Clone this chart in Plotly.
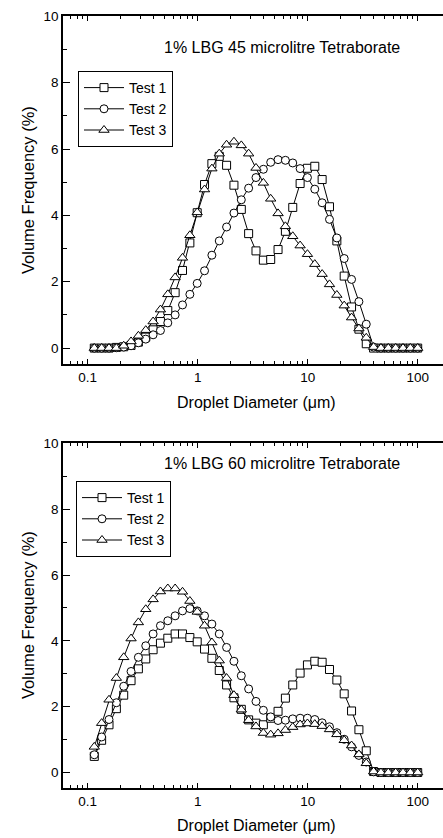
import plotly.graph_objects as go

# Droplet diameter (um) - measurement bins
diameter = [0.1148, 0.1339, 0.1562, 0.1822, 0.2125, 0.2478, 0.2890, 0.3371, 0.3932, 0.4586,
            0.5349, 0.6237, 0.7275, 0.8487, 0.9897, 1.154, 1.346, 1.570, 1.831, 2.136,
            2.491, 2.905, 3.388, 3.953, 4.610, 5.377, 6.271, 7.313, 8.531, 9.949,
            11.60, 13.53, 15.78, 18.41, 21.47, 25.04, 29.21, 34.06, 39.73, 46.34,
            54.05, 63.04, 73.52, 85.76, 100.0]

# 45 microlitre tetraborate
t45_test1 = [0, 0, 0, 0.02, 0.04, 0.08, 0.18, 0.33, 0.55, 0.80,
             1.13, 1.67, 2.34, 3.17, 4.08, 4.93, 5.56, 5.78, 5.51, 4.91,
             4.18, 3.45, 2.93, 2.65, 2.67, 2.97, 3.52, 4.24, 4.96, 5.42,
             5.48, 5.08, 4.26, 3.23, 2.17, 1.24, 0.57, 0.13, 0, 0,
             0, 0, 0, 0, 0]
t45_test2 = [0, 0, 0, 0.01, 0.03, 0.07, 0.16, 0.27, 0.40, 0.53,
             0.76, 1.00, 1.30, 1.62, 1.95, 2.33, 2.80, 3.23, 3.65, 4.07,
             4.47, 4.82, 5.14, 5.39, 5.60, 5.68, 5.66, 5.58, 5.41, 5.14,
             4.79, 4.38, 3.88, 3.32, 2.70, 2.07, 1.40, 0.72, 0.03, 0,
             0, 0, 0, 0, 0]
t45_test3 = [0, 0, 0, 0, 0.07, 0.20, 0.37, 0.54, 0.80, 1.16,
             1.62, 2.13, 2.72, 3.40, 4.09, 4.78, 5.41, 5.86, 6.13, 6.22,
             6.11, 5.86, 5.43, 4.98, 4.50, 4.06, 3.67, 3.37, 3.09, 2.83,
             2.53, 2.23, 1.92, 1.60, 1.28, 0.92, 0.59, 0.31, 0.03, 0,
             0, 0, 0, 0, 0]

# 60 microlitre tetraborate
t60_test1 = [0.49, 0.98, 1.45, 1.94, 2.35, 2.79, 3.15, 3.45, 3.73, 3.93,
             4.08, 4.21, 4.21, 4.10, 3.97, 3.75, 3.47, 3.10, 2.66, 2.27,
             1.92, 1.60, 1.50, 1.45, 1.65, 1.86, 2.26, 2.66, 3.02, 3.27,
             3.38, 3.35, 3.13, 2.81, 2.39, 1.87, 1.30, 0.66, 0.03, 0,
             0, 0, 0, 0, 0]
t60_test2 = [0.54, 1.08, 1.61, 2.12, 2.62, 3.07, 3.50, 3.85, 4.21, 4.46,
             4.61, 4.76, 4.91, 4.98, 4.91, 4.76, 4.51, 4.21, 3.80, 3.38,
             2.94, 2.54, 2.16, 1.89, 1.69, 1.58, 1.59, 1.63, 1.65, 1.65,
             1.61, 1.51, 1.39, 1.21, 1.01, 0.78, 0.52, 0.32, 0.02, 0,
             0, 0, 0, 0, 0]
t60_test3 = [0.78, 1.50, 2.21, 2.87, 3.50, 4.07, 4.56, 4.96, 5.26, 5.50,
             5.59, 5.59, 5.49, 5.21, 4.88, 4.46, 3.95, 3.40, 2.87, 2.35,
             1.91, 1.59, 1.40, 1.20, 1.15, 1.19, 1.29, 1.38, 1.46, 1.49,
             1.47, 1.41, 1.31, 1.16, 0.98, 0.82, 0.55, 0.28, 0.03, 0,
             0, 0, 0, 0, 0]

series_names = ["Test 1", "Test 2", "Test 3"]
symbols = ["square", "circle", "triangle-up"]
panel_titles = ["1% LBG 45 microlitre Tetraborate", "1% LBG 60 microlitre Tetraborate"]
x_title = "Droplet Diameter (μm)"
y_title = "Volume Frequency (%)"
x_major = [0.1, 1, 10, 100]
x_major_text = ["0.1", "1", "10", "100"]
x_minor = [0.07, 0.08, 0.09, 0.2, 0.3, 0.4, 0.5, 0.6, 0.7, 0.8, 0.9,
           2, 3, 4, 5, 6, 7, 8, 9, 20, 30, 40, 50, 60, 70, 80, 90]
y_major = [0, 2, 4, 6, 8, 10]
y_minor = [1, 3, 5, 7, 9]

FONT = "Liberation Sans, Arial, sans-serif"
W, H = 443, 838
ML, MR, MT, MB = 63, 0, 16, 50
top_px = (16, 364)
bot_px = (443, 788)
area_h = H - MT - MB


def frac(py):
    return (H - MB - py) / area_h

fig = go.Figure()

panels = [
    (t45_test1, t45_test2, t45_test3),
    (t60_test1, t60_test2, t60_test3),
]
for p, data in enumerate(panels):
    xa = "x" if p == 0 else "x2"
    ya = "y" if p == 0 else "y2"
    lg = "legend" if p == 0 else "legend2"
    for name, sym, vals in zip(series_names, symbols, data):
        fig.add_trace(go.Scatter(
            x=diameter, y=vals, name=name, mode="lines+markers",
            xaxis=xa, yaxis=ya, legend=lg,
            line=dict(color="black", width=1),
            marker=dict(symbol=sym, size=8 if sym != "triangle-up" else 9,
                        color="white", line=dict(color="black", width=1)),
        ))

xcommon = dict(type="log", range=[-1.2245, 2.23], tickmode="array",
               tickvals=x_major, ticktext=x_major_text,
               ticks="inside", ticklen=5, tickwidth=1, tickcolor="black",
               minor=dict(tickvals=x_minor, ticks="inside", ticklen=3,
                          tickwidth=1, tickcolor="black"),
               showline=True, linecolor="black", linewidth=1.5,
               mirror="allticks", showgrid=False, zeroline=False,
               tickfont=dict(family=FONT, size=13.5, color="black"))
ycommon = dict(tickmode="array", tickvals=y_major,
               ticktext=[str(v) for v in y_major],
               ticks="inside", ticklen=7, tickwidth=1, tickcolor="black",
               minor=dict(tickvals=y_minor, ticks="inside", ticklen=4,
                          tickwidth=1, tickcolor="black"),
               showline=True, linecolor="black", linewidth=1.5,
               showgrid=False, zeroline=False,
               tickfont=dict(family=FONT, size=13.5, color="black"))

legend_common = dict(xanchor="left", yanchor="top",
                     bordercolor="black", borderwidth=1, bgcolor="white",
                     font=dict(family=FONT, size=14, color="black"),
                     tracegroupgap=0, itemwidth=40)

fig.update_layout(
    width=W, height=H,
    margin=dict(l=ML, r=MR, t=MT, b=MB),
    paper_bgcolor="white", plot_bgcolor="white",
    font=dict(family=FONT, color="black"),
    xaxis=dict(domain=[0, 1], anchor="y", **xcommon),
    yaxis=dict(domain=[frac(top_px[1]), 1], anchor="x",
               range=[-0.48, 10.01], **ycommon),
    xaxis2=dict(domain=[0, 1], anchor="y2", **xcommon),
    yaxis2=dict(domain=[0, frac(bot_px[0])], anchor="x2",
                range=[-0.47, 10.01], **ycommon),
    legend=dict(x=(78 - ML) / (W - ML), y=frac(71), **legend_common),
    legend2=dict(x=(76 - ML) / (W - ML), y=frac(481), **legend_common),
    showlegend=True,
)

annos = []
for title, ty, xty, yc in [(panel_titles[0], 47, 402, 190), (panel_titles[1], 463, 825, 615)]:
    annos.append(dict(text=title, xref="paper", yref="paper",
                      x=(282 - ML) / (W - ML), y=frac(ty), showarrow=False,
                      xanchor="center", yanchor="middle",
                      font=dict(family=FONT, size=16, color="black")))
    annos.append(dict(text=x_title, xref="paper", yref="paper",
                      x=(256 - ML) / (W - ML), y=frac(xty), showarrow=False,
                      xanchor="center", yanchor="middle",
                      font=dict(family=FONT, size=16, color="black")))
    annos.append(dict(text=y_title, xref="paper", yref="paper",
                      x=(28 - ML) / (W - ML), y=frac(yc), showarrow=False,
                      xanchor="center", yanchor="middle", textangle=-90,
                      font=dict(family=FONT, size=16.5, color="black")))
fig.update_layout(annotations=annos)

fig.write_html("out.html")
